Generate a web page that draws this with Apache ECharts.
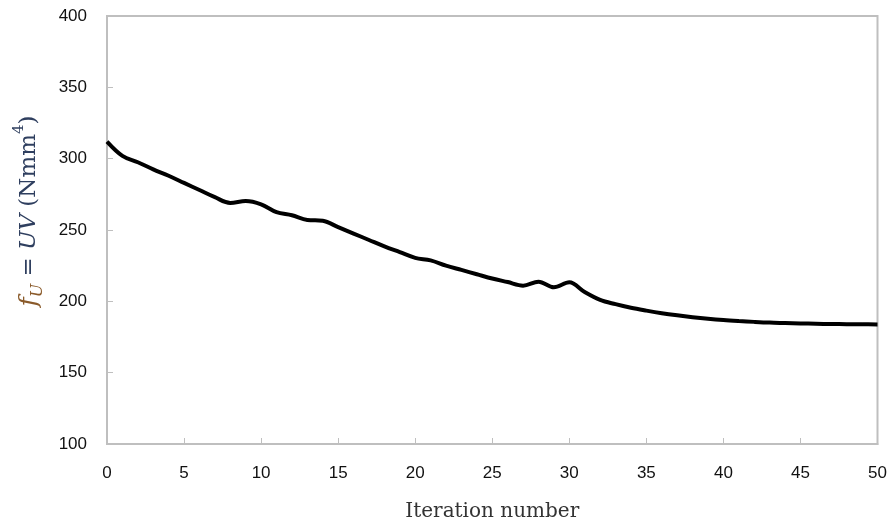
<!DOCTYPE html>
<html>
<head>
<meta charset="utf-8">
<script src="https://cdn.jsdelivr.net/npm/echarts@6/dist/echarts.min.js"></script>
<style>html,body{margin:0;padding:0;background:#fff;}#c{width:892px;height:527px;}</style>
</head>
<body>
<div id="c"></div>
<script>
const iterations = [0,1,2,3,4,5,6,7,8,9,10,11,12,13,14,15,16,17,18,19,20,21,22,23,24,25,26,27,28,29,30,31,32,33,34,35,36,37,38,39,40,41,42,43,44,45,46,47,48,49,50];
const fValues = [312,302,297.5,292.5,288,283,278,273,269,270.3,268,262.5,260.3,257,256.5,252,247.5,243,238.5,234.5,230.5,228.7,225,222,219,216,213.5,211,213.8,209.8,213.3,206.5,201,198,195.5,193.5,191.7,190.2,188.9,187.8,186.9,186.2,185.6,185.1,184.8,184.5,184.3,184.1,184,183.9,183.8];
const xTicks = {min:0, max:50, interval:5};
const yTicks = {min:100, max:400, interval:50};
const xTitle = 'Iteration number';

const chart = echarts.init(document.getElementById('c'), null, {renderer:'canvas'});
const axisGrey = '#bfbfbf';
const labelFont = {fontFamily:'Liberation Sans', fontSize:17, color:'#111'};
chart.setOption({
  animation:false,
  backgroundColor:'#fff',
  grid:{left:107, right:14.5, top:16, bottom:79, show:true, borderColor:axisGrey, borderWidth:2},
  xAxis:{type:'value', min:xTicks.min, max:xTicks.max, interval:xTicks.interval,
    axisLine:{show:true, lineStyle:{color:axisGrey, width:2}},
    axisTick:{show:true, inside:true, length:6, lineStyle:{color:axisGrey, width:1}},
    splitLine:{show:false},
    axisLabel:Object.assign({margin:21}, labelFont),
    name:xTitle, nameLocation:'middle', nameGap:58,
    nameTextStyle:{fontFamily:'DejaVu Serif', fontSize:20, color:'#333'}
  },
  yAxis:{type:'value', min:yTicks.min, max:yTicks.max, interval:yTicks.interval,
    axisLine:{show:true, lineStyle:{color:axisGrey, width:2}},
    axisTick:{show:true, inside:true, length:6, lineStyle:{color:axisGrey, width:1}},
    splitLine:{show:false},
    axisLabel:Object.assign({margin:20}, labelFont)
  },
  graphic:[{
    type:'text', x:29, y:211, rotation:Math.PI/2,
    style:{
      text:'{f|f}{s|U}{n| = }{i|UV}{n| (Nmm}{p|4}{n|)}',
      align:'center', verticalAlign:'middle',
      rich:{
        f:{fontFamily:'DejaVu Serif', fontStyle:'italic', fontSize:25, fill:'#8a5a2a', lineHeight:34},
        s:{fontFamily:'DejaVu Serif', fontStyle:'italic', fontSize:16, fill:'#8a5a2a', verticalAlign:'bottom', lineHeight:34},
        n:{fontFamily:'DejaVu Serif', fontSize:23, fill:'#2f3f5f', lineHeight:34},
        i:{fontFamily:'DejaVu Serif', fontStyle:'italic', fontSize:23, fill:'#2f3f5f', lineHeight:34},
        p:{fontFamily:'DejaVu Serif', fontSize:15, fill:'#2f3f5f', verticalAlign:'top', lineHeight:34}
      }
    }
  }],
  series:[{
    type:'line', smooth:0.35, showSymbol:false, symbol:'none',
    data:iterations.map((x,i)=>[x,fValues[i]]),
    lineStyle:{color:'#000', width:4}
  }]
});
</script>
</body>
</html>
